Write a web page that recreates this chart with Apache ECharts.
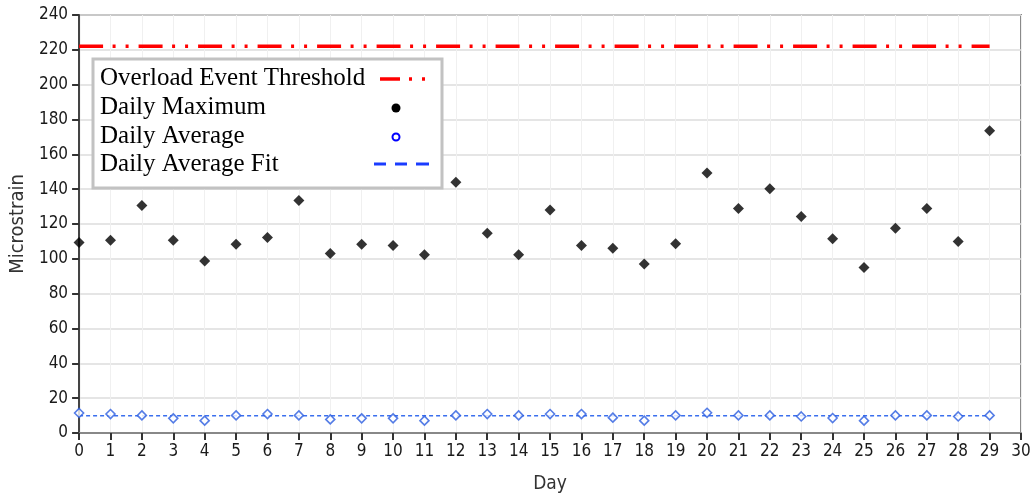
<!DOCTYPE html>
<html>
<head>
<meta charset="utf-8">
<script src="https://cdn.jsdelivr.net/npm/echarts@6/dist/echarts.min.js"></script>
<style>
html,body{margin:0;padding:0;background:#fff;}
#chart{width:1034px;height:499px;}
</style>
</head>
<body>
<div id="chart"></div>
<script>
// ---- data ----
const days = [0,1,2,3,4,5,6,7,8,9,10,11,12,13,14,15,16,17,18,19,20,21,22,23,24,25,26,27,28,29];
const dailyMax = [109.4,110.7,130.6,110.7,98.7,108.4,112.2,133.5,103,108.4,107.6,102.3,144,114.7,102.3,128.1,107.6,106.1,97.1,108.6,149.3,128.9,140.2,124.3,111.5,95,117.6,128.9,109.9,173.6];
const dailyAvg = [11.5,10.9,10.1,8.4,7.1,10.1,10.9,10.1,7.8,8.4,8.4,7.1,10.1,10.9,10.1,10.9,10.9,8.8,7.1,10.1,11.6,10.1,10.1,9.5,8.6,7.1,10.1,10.1,9.5,10.1];
const fitStartEnd = [0, 29];
const fitValue = 9.9;
const thresholdValue = 222;
const legendLabels = ['Overload Event Threshold','Daily Maximum','Daily Average','Daily Average Fit'];
const xTitle = 'Day';
const yTitle = 'Microstrain';

const maxPts = days.map((d,i)=>[d, dailyMax[i]]);
const avgPts = days.map((d,i)=>[d, dailyAvg[i]]);
const fitPts = fitStartEnd.map(d=>[d, fitValue]);
const thrPts = fitStartEnd.map(d=>[d, thresholdValue]);

const axisFont = '"DejaVu Sans Condensed", "DejaVu Sans", sans-serif';
const serif = '"Liberation Serif", "Times New Roman", serif';

const chart = echarts.init(document.getElementById('chart'));
const legendRowY = [78, 107, 136, 164];

chart.setOption({
  animation: false,
  backgroundColor: '#fff',
  grid: {left: 77, right: 13, top: 15, bottom: 66, show: true, borderColor: '#8a8a8a', borderWidth: 2},
  xAxis: {
    type: 'value', min: 0, max: 30, interval: 1,
    name: xTitle, nameLocation: 'middle', nameGap: 42,
    nameTextStyle: {fontFamily: axisFont, fontSize: 19, color: '#333'},
    axisLine: {show: true, onZero: false, lineStyle: {color: '#888', width: 2}},
    axisTick: {show: true, length: 7, lineStyle: {color: '#333', width: 2}},
    axisLabel: {fontFamily: axisFont, fontSize: 17, color: '#1a1a1a', margin: 10},
    splitLine: {show: true, lineStyle: {color: '#f0f0f0', width: 1}}
  },
  yAxis: {
    type: 'value', min: 0, max: 240, interval: 20,
    name: yTitle, nameLocation: 'middle', nameGap: 50, nameRotate: 90,
    nameTextStyle: {fontFamily: axisFont, fontSize: 20, color: '#333'},
    axisLine: {show: true, onZero: false, lineStyle: {color: '#444', width: 2}},
    axisTick: {show: true, length: 7, lineStyle: {color: '#333', width: 2}},
    axisLabel: {fontFamily: axisFont, fontSize: 17, color: '#1a1a1a', margin: 11},
    splitLine: {show: true, lineStyle: {color: '#dcdcdc', width: 1.5}}
  },
  series: [
    {
      name: legendLabels[0], type: 'line', data: thrPts, symbol: 'none', z: 3,
      lineStyle: {color: '#ff0000', width: 3.5, type: [24, 9.5, 3, 10, 3, 10], cap: 'butt'}
    },
    {
      name: legendLabels[3], type: 'line', data: fitPts, symbol: 'none', z: 3,
      lineStyle: {color: '#3a6fee', width: 1.5, type: [4, 3]}
    },
    {
      name: legendLabels[2], type: 'scatter', data: avgPts, symbol: 'diamond', symbolSize: 9, z: 4,
      itemStyle: {color: '#ffffff', borderColor: '#2a5ce0', borderWidth: 1.6}
    },
    {
      name: legendLabels[1], type: 'scatter', data: maxPts, symbol: 'diamond', symbolSize: 11, z: 5,
      itemStyle: {color: '#000000'}
    }
  ],
  graphic: [
    {type: 'rect', shape: {x: 93, y: 59, width: 349, height: 129}, z: 50,
     style: {fill: '#fff', stroke: '#c2c2c2', lineWidth: 3}},
    ...legendLabels.map((t, i) => ({
      type: 'text', x: 100, y: legendRowY[i], z: 51,
      style: {text: t, font: '25px ' + serif, fill: '#000', verticalAlign: 'middle'}
    })),
    {type: 'line', z: 51, shape: {x1: 380, y1: 79, x2: 400, y2: 79}, style: {stroke: '#ff0000', lineWidth: 3.5}},
    {type: 'line', z: 51, shape: {x1: 409, y1: 79, x2: 412, y2: 79}, style: {stroke: '#ff0000', lineWidth: 3.5}},
    {type: 'line', z: 51, shape: {x1: 422, y1: 79, x2: 425, y2: 79}, style: {stroke: '#ff0000', lineWidth: 3.5}},
    {type: 'circle', z: 51, shape: {cx: 396, cy: 108, r: 4.5}, style: {fill: '#000'}},
    {type: 'circle', z: 51, shape: {cx: 396, cy: 137, r: 3.5}, style: {fill: '#fff', stroke: '#0000ff', lineWidth: 2}},
    {type: 'line', z: 51, shape: {x1: 374, y1: 164, x2: 386, y2: 164}, style: {stroke: '#1a3cff', lineWidth: 3}},
    {type: 'line', z: 51, shape: {x1: 395, y1: 164, x2: 407, y2: 164}, style: {stroke: '#1a3cff', lineWidth: 3}},
    {type: 'line', z: 51, shape: {x1: 416, y1: 164, x2: 429, y2: 164}, style: {stroke: '#1a3cff', lineWidth: 3}}
  ]
});
</script>
</body>
</html>
